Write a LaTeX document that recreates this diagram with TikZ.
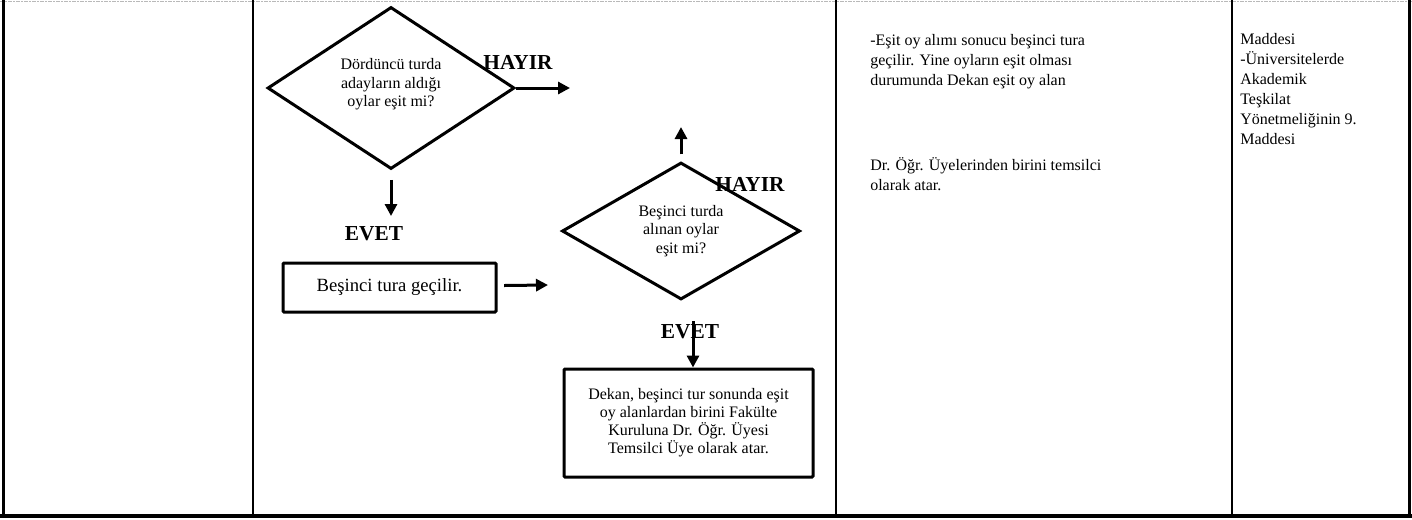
\documentclass[tikz,border=0pt]{standalone}
\usepackage{fontspec}
\setmainfont{Liberation Serif}
\usetikzlibrary{shapes.geometric,arrows.meta,positioning}

\begin{document}
\begin{tikzpicture}[x=0.75pt,y=-0.75pt,
    karar/.style={diamond,aspect=2,draw,line width=2.25pt,inner sep=0pt,align=center,
        font=\fontsize{12}{14}\selectfont},
    islem/.style={rectangle,draw,line width=2.25pt,rounded corners=0.75pt,align=center},
    cevap/.style={inner sep=0pt,font=\fontsize{16}{18}\selectfont\bfseries},
    ok/.style={line width=2.25pt,-{Triangle[length=9pt,width=9pt]}},
    sutun/.style={anchor=north west,align=left,inner sep=0pt,
        font=\fontsize{12}{15}\selectfont}]

    \useasboundingbox (0,0) rectangle (1412,519);

    % tablo cizgileri
    \draw[gray!55,line width=0.75pt,dash pattern=on 3pt off 1pt on 1pt off 1pt] (0,1) -- (1412,1);
    \draw[line width=2.25pt] (3,0) -- (3,516);
    \foreach \x in {253,836,1232}
        \draw[line width=1.5pt] (\x,0) -- (\x,516);
    \draw[line width=2.25pt] (1409,0) -- (1409,516);
    \draw[line width=3pt] (0,516) -- (1412,516);

    % etiketler
    \node[cevap] (hayir1) at (518,62) {HAYIR};
    \node[cevap] (evet1) at (374,234) {EVET};
    \node[cevap] (hayir2) at (750,184) {HAYIR};
    \node[cevap] (evet2) at (690,332) {EVET};

    % akis
    \node[karar,minimum width=185.25pt,minimum height=121.5pt] (dia1) at (391,88)
        {Dördüncü turda\\adayların aldığı\\oylar eşit mi?\\[-6pt]};
    \coordinate (hayir1uc) at (570,88);
    \draw[ok] (dia1.east) -- (hayir1uc);
    \coordinate (evet1uc) at (391,216);
    \draw[ok] ([yshift=-7pt]dia1.south) -- (evet1uc);

    \node[islem,minimum width=159.75pt,minimum height=36.75pt,
        font=\fontsize{14}{16}\selectfont] (kutu1) at (389.5,287.5) {Beşinci tura geçilir.};
    \coordinate (kutu1uc) at (548,285);
    \draw[ok] ([xshift=5pt,yshift=1.5pt]kutu1.east) -- (kutu1uc);

    \node[karar,minimum width=178.5pt,minimum height=102.75pt] (dia2) at (681,231)
        {Beşinci turda\\alınan oylar\\eşit mi?};
    \coordinate (hayir2uc) at (681,127);
    \draw[ok] ([yshift=5pt]dia2.north) -- (hayir2uc);

    \node[islem,minimum width=186.75pt,minimum height=81pt,
        font=\fontsize{12}{13.5}\selectfont] (kutu2) at (688.5,423)
        {Dekan, beşinci tur sonunda eşit\\oy alanlardan birini Fakülte\\Kuruluna Dr. Öğr. Üyesi\\Temsilci Üye olarak atar.};
    \coordinate (evet2ok) at (693,321);
    \draw[ok] (evet2ok) -- (evet2ok |- kutu2.north);

    % aciklama sutunlari
    \node[sutun] (sutun3a) at (870,34)
        {-Eşit oy alımı sonucu beşinci tura\\geçilir. Yine oyların eşit olması\\durumunda Dekan eşit oy alan};
    \node[sutun] (sutun3b) at (870,157)
        {Dr. Öğr. Üyelerinden birini temsilci\\olarak atar.};
    \node[sutun] (sutun4) at (1240,33)
        {Maddesi\\-Üniversitelerde\\Akademik\\Teşkilat\\Yönetmeliğinin 9.\\Maddesi};
\end{tikzpicture}
\end{document}
